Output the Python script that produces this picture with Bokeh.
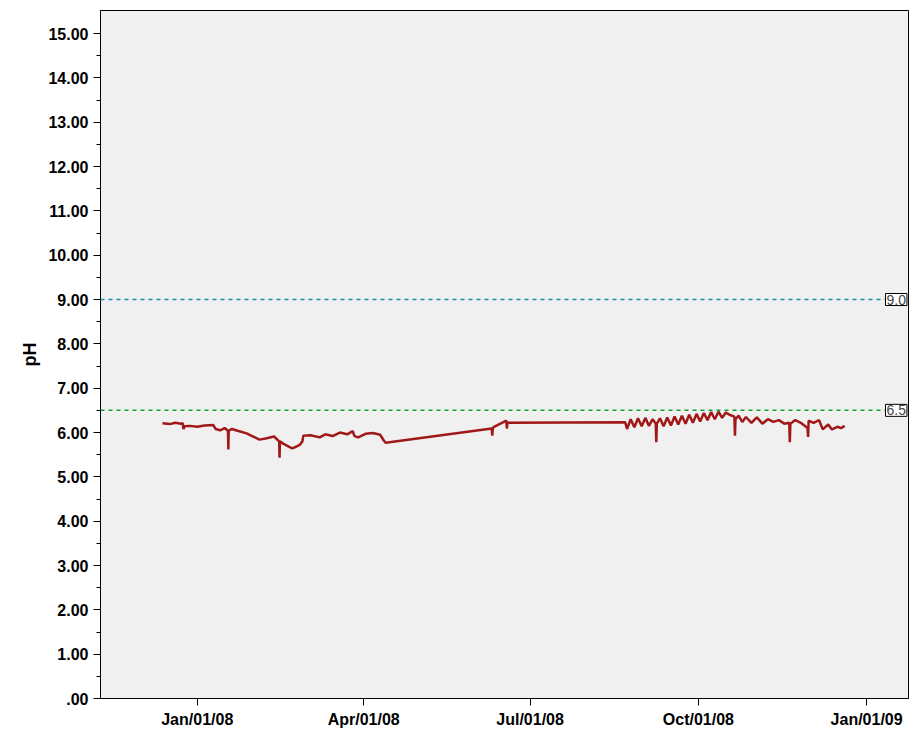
import pandas as pd
from bokeh.plotting import figure
from bokeh.models import FixedTicker, Span, Label, Range1d
from bokeh.embed import file_html
from bokeh.resources import INLINE

# days offset from 2008-01-01, pH values
days = [-19, -15, -12, -9, -8, -7.5, -7, -4, 0, 4, 8.7, 10, 12.5, 15, 16.8, 17, 17.2, 19, 22, 27, 30, 34, 38, 42, 44.8, 45, 45.2, 47, 50, 52, 55, 56, 57.5, 58, 62, 67, 70, 74, 78, 82, 85, 86, 88, 92, 96, 100, 102, 103,
        161, 161.3, 161.6, 162, 169, 169.3, 169.6, 170,
        234, 235, 237, 239, 241, 243, 245, 247, 249, 250.7, 251, 251.3, 253, 255, 257, 259, 261, 263, 265, 267, 269, 271, 273, 275, 277, 279, 281, 283, 285, 287, 289, 291, 293.7, 294, 294.3, 296, 298, 300, 303, 306, 309, 312, 315, 318, 321, 323.7, 324, 324.3, 327, 330, 333.7, 334, 334.3, 337, 340, 342, 345, 347, 350, 352, 354]
ph = [6.21, 6.19, 6.22, 6.2, 6.21, 6.08, 6.14, 6.15, 6.13, 6.16, 6.17, 6.08, 6.05, 6.1, 6.04, 5.62, 6.04, 6.08, 6.04, 5.98, 5.92, 5.84, 5.87, 5.91, 5.8, 5.43, 5.8, 5.75, 5.68, 5.64, 5.7, 5.72, 5.8, 5.93, 5.94, 5.89, 5.96, 5.92, 6.0, 5.96, 6.03, 5.92, 5.89, 5.97, 5.99, 5.95, 5.82, 5.77,
      6.09, 5.93, 6.09, 6.12, 6.27, 6.09, 6.22, 6.22,
      6.23, 6.08, 6.3, 6.12, 6.32, 6.14, 6.33, 6.15, 6.3, 6.2, 5.78, 6.2, 6.32, 6.14, 6.34, 6.16, 6.36, 6.18, 6.38, 6.2, 6.4, 6.22, 6.42, 6.25, 6.44, 6.28, 6.46, 6.3, 6.47, 6.33, 6.45, 6.4, 6.36, 5.93, 6.3, 6.38, 6.24, 6.35, 6.22, 6.34, 6.2, 6.3, 6.24, 6.28, 6.2, 6.22, 5.78, 6.2, 6.28, 6.22, 6.1, 5.9, 6.27, 6.22, 6.28, 6.07, 6.18, 6.07, 6.13, 6.1, 6.15]
ref_levels = [9.0, 6.5]
ref_colors = ["#1f8fb4", "#10a030"]
x_tick_labels = ["Jan/01/08", "Apr/01/08", "Jul/01/08", "Oct/01/08", "Jan/01/09"]

base = pd.Timestamp("2008-01-01")
xs = [base + pd.Timedelta(days=d) for d in days]
tick_dates = pd.to_datetime(["2008-01-01", "2008-04-01", "2008-07-01", "2008-10-01", "2009-01-01"])
tick_ms = [int(t.value // 10**6) for t in tick_dates]

x0 = (base - pd.Timedelta(days=52.9)).value // 10**6
x1 = (base + pd.Timedelta(days=388.9)).value // 10**6

p = figure(output_backend="svg", toolbar_location=None, x_axis_type="datetime",
           frame_width=808, frame_height=688, min_border_left=100, min_border_right=4,
           min_border_top=10, min_border_bottom=28,
           x_range=Range1d(x0, x1), y_range=Range1d(0, 15.52))
p.background_fill_color = "#f0f0f0"
p.border_fill_color = "white"
p.outline_line_color = "black"
p.xgrid.visible = False
p.ygrid.visible = False

p.line(xs, ph, line_color="#a01818", line_width=2.5)

for lv, c in zip(ref_levels, ref_colors):
    p.add_layout(Span(location=lv, dimension="width", line_color=c, line_dash="4 4", line_width=1.5))
    p.add_layout(Label(x=x1, y=lv, text="%.1f" % lv, x_units="data", y_units="data",
                       x_offset=-23, y_offset=0, text_baseline="middle", padding=1,
                       text_font_size="14px", text_font="Liberation Sans",
                       border_line_color="black", background_fill_color="white"))

p.xaxis.ticker = FixedTicker(ticks=tick_ms)
p.xaxis.major_label_overrides = {t: l for t, l in zip(tick_ms, x_tick_labels)}
yt = list(range(0, 16))
p.yaxis.ticker = FixedTicker(ticks=yt, minor_ticks=[i * 0.5 for i in range(31)])
p.yaxis.major_label_overrides = {i: ("%.2f" % i if i else ".00") for i in yt}
p.yaxis.axis_label = "pH"
for ax in (p.xaxis, p.yaxis):
    ax.major_label_text_font = "Liberation Sans"
    ax.major_label_text_font_style = "bold"
    ax.major_label_text_font_size = "16px"
    ax.major_label_text_color = "black"
    ax.major_tick_in = 0
    ax.major_tick_out = 7
    ax.minor_tick_in = 0
    ax.minor_tick_out = 4
    ax.axis_line_color = "black"
p.xaxis.minor_tick_line_color = None
p.yaxis.axis_label_text_font = "Liberation Sans"
p.yaxis.axis_label_text_font_style = "bold"
p.yaxis.axis_label_text_font_size = "18px"
p.yaxis.axis_label_text_color = "black"

open("out.html", "w").write(file_html(p, INLINE))
